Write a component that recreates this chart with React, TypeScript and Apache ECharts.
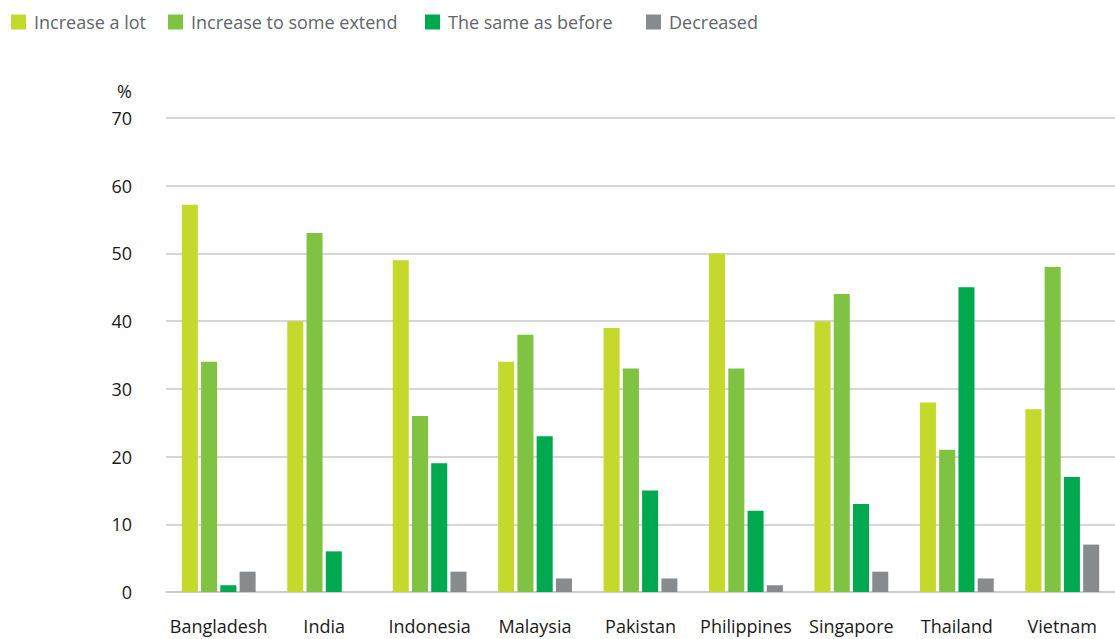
import React, { useEffect, useRef } from "react";
import * as echarts from "echarts";

const categories = ["Bangladesh", "India", "Indonesia", "Malaysia", "Pakistan", "Philippines", "Singapore", "Thailand", "Vietnam"];
const increaseALot = [57.2, 40, 49, 34, 39, 50, 40, 28, 27];
const increaseSome = [34, 53, 26, 38, 33, 33, 44, 21, 48];
const sameAsBefore = [1, 6, 19, 23, 15, 12, 13, 45, 17];
const decreased = [3, 0, 3, 2, 2, 1, 3, 2, 7];
const seriesNames = ["Increase a lot", "Increase to some extend", "The same as before", "Decreased"];
const colors = ["#C5D92D", "#80C241", "#00A94F", "#888B8E"];
const legendLefts = [6, 163, 420, 641];

export default function App() {
  const ref = useRef<HTMLDivElement>(null);
  useEffect(() => {
    if (!ref.current) return;
    const chart = echarts.init(ref.current, null, { renderer: "svg" });
    const font = "'Open Sans', 'Noto Sans', sans-serif";
    const values = [increaseALot, increaseSome, sameAsBefore, decreased];
    chart.setOption({
      animation: false,
      color: colors,
      textStyle: { fontFamily: font },
      legend: seriesNames.map((name, i) => ({
        left: legendLefts[i],
        top: 8,
        itemWidth: 15,
        itemHeight: 15,
        icon: "rect",
        textStyle: { fontFamily: font, fontSize: 18, color: "#62656b", padding: [0, 0, 0, 3] },
        data: [name],
      })),
      grid: { left: 166, right: 0, top: 118, bottom: 47, containLabel: false },
      xAxis: {
        type: "category",
        data: categories,
        axisLine: { show: true, lineStyle: { color: "#c8c8c8", width: 1.5 } },
        axisTick: { show: false },
        axisLabel: { color: "#1a1a1a", fontSize: 18, margin: 25, fontFamily: font, interval: 0 },
      },
      yAxis: {
        type: "value",
        min: 0,
        max: 70,
        interval: 10,
        name: "%",
        nameLocation: "end",
        nameGap: 18,
        nameTextStyle: { color: "#1a1a1a", fontSize: 18, fontFamily: font, align: "right", padding: [0, 34, 0, 0] },
        axisLine: { show: false },
        axisTick: { show: false },
        axisLabel: { color: "#1a1a1a", fontSize: 18, margin: 34, fontFamily: font },
        splitLine: { lineStyle: { color: "#c8c8c8", width: 1.5 } },
      },
      series: seriesNames.map((name, i) => ({
        name,
        type: "bar",
        data: values[i],
        barGap: "20%",
        barCategoryGap: "30%",
        itemStyle: { color: colors[i] },
      })),
    });
    return () => chart.dispose();
  }, []);
  return <div ref={ref} style={{ position: "absolute", left: 0, top: 0, width: 1115, height: 639 }} />;
}
